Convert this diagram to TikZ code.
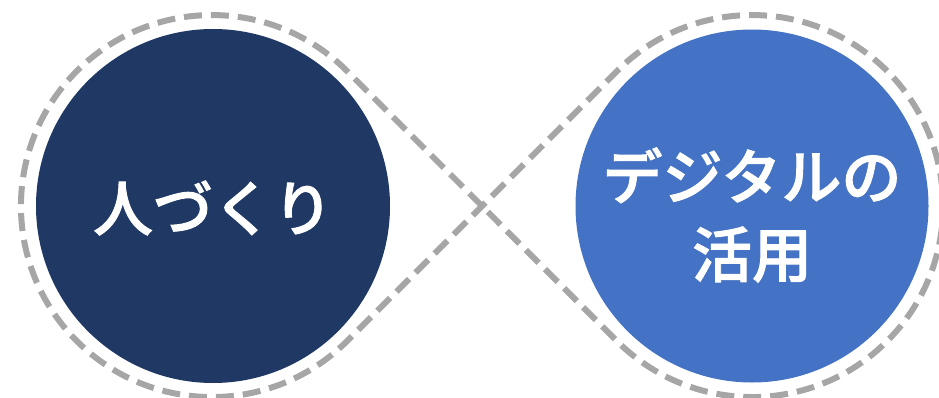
\documentclass[tikz,border=0pt]{standalone}
\usepackage{fontspec}
\usepackage{tikz}
\newfontfamily\jpfont{Noto Sans CJK JP Medium}[FakeBold=1.5]
\definecolor{navy}{RGB}{31,56,100}
\definecolor{midblue}{RGB}{68,114,196}
\definecolor{loopgray}{RGB}{166,166,166}

\begin{document}
\begin{tikzpicture}[
  x=1pt, y=1pt,
  disc/.style={
    circle,
    inner sep=0pt
  },
  disctext/.style={
    align=center,
    text=white,
    inner sep=0pt,
    font=\jpfont\fontsize{60}{78}\selectfont
  },
  loopline/.style={
    draw=loopgray,
    line width=6pt,
    dash pattern=on 18pt off 9pt
  }
]
\useasboundingbox (0,0) rectangle (939,397);

% infinity loop
\coordinate (cross) at (482,191);
\coordinate (lt) at (347,326);
\coordinate (rt) at (617,326);
\draw[loopline] (cross) -- (lt) arc[start angle=45, end angle=315, radius=191]
  -- (cross) -- (rt) arc[start angle=135, end angle=-135, radius=191] -- cycle;

% circles
\node[disc, fill=navy, minimum size=354pt] (people) at (213,191) {};
\node[disc, fill=midblue, minimum size=353pt] (digital) at (752,191) {};
\node[disctext] (peopletext) at ([yshift=-2pt]people.center) {人づくり};
\node[disctext] (digitaltext) at ([yshift=-9pt]digital.center) {デジタルの\\活用};

\end{tikzpicture}
\end{document}
